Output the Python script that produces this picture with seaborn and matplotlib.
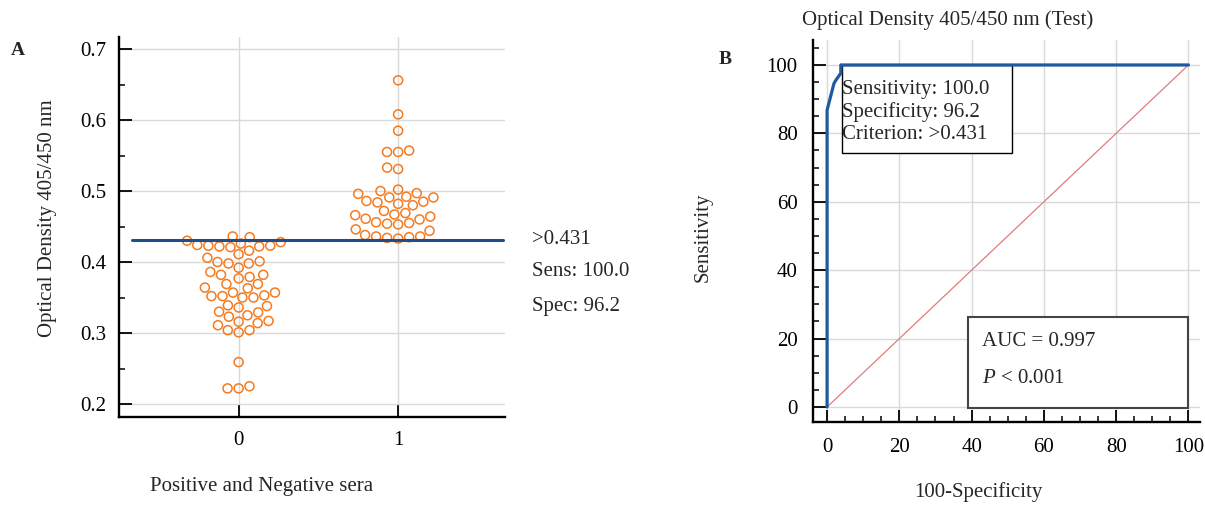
"""
ELISA 阴性/阳性血清 OD 值点图 (A) 与 ROC 曲线 (B)
"""
##
import pandas as pd
import seaborn as sns
import matplotlib.pyplot as plt
from matplotlib.patches import Rectangle
from matplotlib.ticker import MultipleLocator

##
# 读图估计的数据
neg_od = [0.435, 0.436,
          0.421, 0.422, 0.422, 0.423, 0.423, 0.424, 0.426, 0.428, 0.430,
          0.416, 0.411, 0.401, 0.406,
          0.392, 0.398, 0.398, 0.400,
          0.386,
          0.377, 0.379, 0.382, 0.382,
          0.363, 0.364, 0.369, 0.369,
          0.350, 0.350, 0.352, 0.352, 0.353, 0.357, 0.357,
          0.336, 0.338, 0.339,
          0.329, 0.330,
          0.323, 0.325,
          0.311, 0.314, 0.316, 0.317,
          0.301, 0.304, 0.304,
          0.259,
          0.222, 0.222, 0.225]
pos_od = [0.656, 0.608, 0.585,
          0.555, 0.555, 0.557,
          0.531, 0.533,
          0.500, 0.502,
          0.491, 0.491, 0.492, 0.496, 0.497,
          0.480, 0.482, 0.484, 0.485, 0.486,
          0.466, 0.467, 0.469, 0.472,
          0.460, 0.461, 0.464,
          0.453, 0.454, 0.455, 0.456,
          0.444, 0.446,
          0.433, 0.434, 0.435, 0.436, 0.436, 0.438]
group_names = ['0', '1']
cutoff = 0.431
cutoff_text = ['>0.431', 'Sens: 100.0', 'Spec: 96.2']

roc_fpr = [0, 0, 1.9, 2.4, 3.8, 3.8, 100]
roc_tpr = [0, 86.8, 94.6, 95.5, 97.6, 100, 100]
diag_x = [0, 100]
diag_y = [0, 100]
crit_lines = ['Sensitivity: 100.0', 'Specificity: 96.2', 'Criterion: >0.431']
auc_text = 'AUC = 0.997'
p_text = r'$P$ < 0.001'

##
# 样式
sns.set_style('white')
plt.rcParams['font.family'] = ['Liberation Serif', 'DejaVu Serif']
plt.rcParams['mathtext.fontset'] = 'custom'
plt.rcParams['mathtext.rm'] = 'Liberation Serif'
plt.rcParams['mathtext.it'] = 'Liberation Serif:italic'
fs = 15
W, H = 1205, 507

fig = plt.figure(figsize=(W / 100, H / 100), dpi=100)
ax1 = fig.add_axes([119 / W, 1 - 417 / H, 386 / W, 380 / H])
ax2 = fig.add_axes([813 / W, 1 - 421.7 / H, 387 / W, 381.7 / H])


def style_axes(ax):
    for s in ['top', 'right']:
        ax.spines[s].set_visible(False)
    for s in ['left', 'bottom']:
        ax.spines[s].set_linewidth(1.7)
        ax.spines[s].set_color('black')
    ax.tick_params(which='both', bottom=True, left=True, top=False, right=False)
    ax.tick_params(which='major', direction='in', length=9, width=1.3, labelsize=fs, colors='black')
    ax.tick_params(which='minor', direction='in', length=4.5, width=1.1, colors='black')
    ax.grid(True, which='major', color='#d9d9d9', lw=1)
    ax.set_axisbelow(True)


##
# A: 点图
df = pd.DataFrame({'group': ['0'] * len(neg_od) + ['1'] * len(pos_od),
                   'od': neg_od + pos_od})
sns.swarmplot(data=df, x='group', y='od', order=group_names, ax=ax1,
              color='#f47b20', facecolor='none', edgecolor='#f47b20',
              linewidth=1.1, size=6.5)
ax1.set_xlim(-0.75, 1.67)
ax1.set_ylim(0.1817, 0.717)
ax1.yaxis.set_major_locator(MultipleLocator(0.1))
ax1.yaxis.set_minor_locator(MultipleLocator(0.05))
ax1.set_yticks([0.2, 0.3, 0.4, 0.5, 0.6, 0.7])
ax1.set_xlabel('')
ax1.set_ylabel('')
style_axes(ax1)
ax1.tick_params(axis='x', pad=10)
ax1.tick_params(axis='y', pad=9)
ax1.axhline(cutoff, xmin=0.034, xmax=0.995, color='#1f4e8c', lw=2.2, zorder=4)

for txt, yp in zip(cutoff_text, [240, 272, 306]):
    fig.text(532 / W, 1 - yp / H, txt, fontsize=fs, va='center', ha='left')

fig.text(48 / W, 1 - 218 / H, 'Optical Density 405/450 nm', fontsize=fs,
         rotation=90, va='center', ha='center')
fig.text(262 / W, 1 - 487 / H, 'Positive and Negative sera', fontsize=fs,
         va='center', ha='center')
fig.text(18 / W, 1 - 50 / H, 'A', fontsize=14, fontweight='bold', va='center', ha='center')

##
# B: ROC 曲线
sns.lineplot(x=diag_x, y=diag_y, ax=ax2, color='#e07b7b', lw=0.9, estimator=None, sort=False, zorder=2)
sns.lineplot(x=roc_fpr, y=roc_tpr, ax=ax2, color='#1e5aa0', lw=2.3, estimator=None, sort=False, zorder=5)
ax2.set_xlim(-3.9, 103.2)
ax2.set_ylim(-4.3, 107.3)
ax2.xaxis.set_major_locator(MultipleLocator(20))
ax2.xaxis.set_minor_locator(MultipleLocator(5))
ax2.yaxis.set_major_locator(MultipleLocator(20))
ax2.yaxis.set_minor_locator(MultipleLocator(5))
style_axes(ax2)
ax2.tick_params(axis='x', pad=12)
ax2.tick_params(axis='y', pad=11)

ax2.add_patch(Rectangle((4.0, 74.4), 47.1, 25.6, fc='white', ec='black', lw=1.0, zorder=4))
for txt, yv in zip(crit_lines, [92.7, 86.1, 79.6]):
    ax2.text(4.1, yv, txt, fontsize=fs, va='center', ha='left', zorder=6)

ax2.add_patch(Rectangle((38.9, -0.4), 61.1, 26.8, fc='white', ec='#444444', lw=1.5, zorder=4))
ax2.text(43.0, 19.1, auc_text, fontsize=fs, va='center', ha='left', zorder=6)
ax2.text(43.0, 8.2, p_text, fontsize=fs, va='center', ha='left', zorder=6)

fig.text(948 / W, 1 - 20 / H, 'Optical Density 405/450 nm (Test)', fontsize=fs, va='center', ha='center')
fig.text(703 / W, 1 - 237 / H, 'Sensitivity', fontsize=fs, rotation=90, va='center', ha='center')
fig.text(978 / W, 1 - 492 / H, '100-Specificity', fontsize=fs, va='center', ha='center')
fig.text(725 / W, 1 - 60 / H, 'B', fontsize=14, fontweight='bold', va='center', ha='center')

fig.savefig('out.png', dpi=100)
